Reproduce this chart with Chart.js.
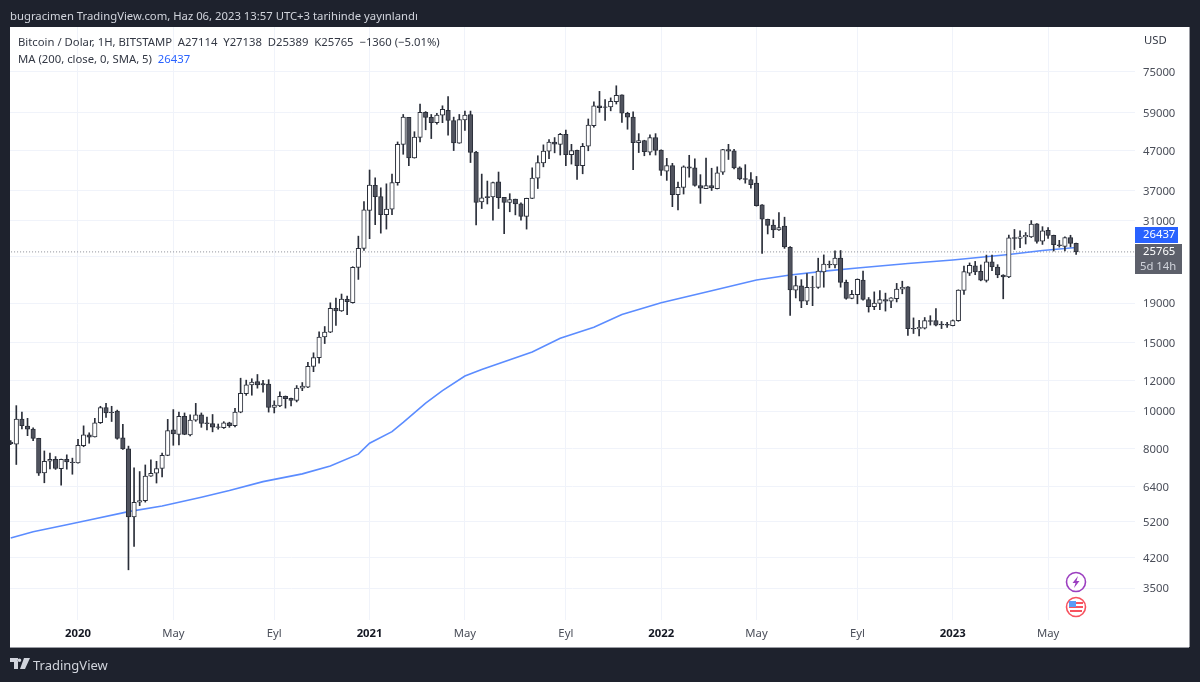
<!DOCTYPE html>
<html>
<head>
<meta charset="utf-8">
<title>Bitcoin / Dolar</title>
<script src="https://cdn.jsdelivr.net/npm/chart.js@4/dist/chart.umd.min.js"></script>
<style>
  html, body { margin: 0; padding: 0; background: #1e222d; }
  #page { position: relative; width: 1200px; height: 682px; overflow: hidden; background: #1e222d; font-family: "Noto Sans", sans-serif; }
  #panel { position: absolute; left: 10px; top: 27px; width: 1179px; height: 620px; background: #fff; box-shadow: 0 1px 0 #9a9ca3, 1px 0 0 #9a9ca3; }
  #chart { position: absolute; left: 0; top: 0; }
  .txt { position: absolute; white-space: pre; }
  #published { left: 10px; top: 8px; font-size: 11.3px; color: #d1d4dc; }
  #legend1 { left: 18px; top: 34px; font-size: 11.3px; color: #333844; }
  #legend2 { left: 18px; top: 51px; font-size: 11.3px; color: #333844; }
  #legend2 span { color: #2962ff; }
  #usd { left: 1144px; top: 32px; font-size: 11.3px; color: #333844; }
  #brand { left: 33px; top: 656px; font-size: 13px; color: #d1d4dc; }
  svg { position: absolute; }
</style>
</head>
<body>
<div id="page">
  <div id="panel"></div>
  <canvas id="chart" width="1200" height="682"></canvas>
  <div class="txt" id="published">bugracimen TradingView.com, Haz 06, 2023 13:57 UTC+3 tarihinde yayınlandı</div>
  <div class="txt" id="legend1">Bitcoin / Dolar, 1H, BITSTAMP  A27114  Y27138  D25389  K25765  −1360 (−5.01%)</div>
  <div class="txt" id="legend2">MA (200, close, 0, SMA, 5)  <span>26437</span></div>
  <div class="txt" id="usd">USD</div>
  <div class="txt" id="brand">TradingView</div>
  <!-- TradingView logo -->
  <svg style="left:10px;top:658px" width="20" height="12" viewBox="0 0 20 12">
    <path d="M0 0H8V11H4V4H0Z M9.5 4a1.8 1.8 0 1 0 0-3.6a1.8 1.8 0 0 0 0 3.6Z M14 0H20L15 11H10Z" fill="#d1d4dc"/>
  </svg>
  <!-- event badges -->
  <svg style="left:1065px;top:571px" width="22" height="22" viewBox="0 0 22 22">
    <circle cx="11" cy="11" r="9.5" fill="#fff" stroke="#9c3fc0" stroke-width="1.6"/>
    <path d="M13 5L7.5 12H10.5L9 17L14.5 10H11.5Z" fill="#9c3fc0"/>
  </svg>
  <svg style="left:1065px;top:596px" width="22" height="22" viewBox="0 0 22 22">
    <circle cx="11" cy="11" r="9.5" fill="#fff" stroke="#f7525f" stroke-width="1.6"/>
    <rect x="4" y="6" width="14" height="2" fill="#f7525f"/>
    <rect x="4" y="10" width="14" height="2" fill="#f7525f"/>
    <rect x="5" y="14" width="12" height="2" fill="#f7525f"/>
    <rect x="4" y="5" width="7" height="6" fill="#5b9cf6"/>
  </svg>
</div>
<script>
// weekly candles, index 0 is the first visible week
const opens = [
  8330, 8220, 9540, 9160, 9000, 8510, 6935, 7430, 7520, 7110,
  7520, 7400, 7360, 8150, 8700, 8590, 9340, 10220, 9950, 10010,
  8540, 8000, 5340, 5824, 5880, 6800, 6920, 7120, 7690, 8960,
  8720, 9700, 8690, 9490, 9790, 9330, 9290, 9120, 9070, 9330,
  9180, 9950, 11100, 11700, 11930, 11780, 11760, 10230, 10330, 10930,
  10800, 10670, 11470, 11530, 13060, 13750, 15540, 16000, 18420, 18160,
  19430, 19060, 23480, 26310, 32940, 38260, 35800, 32150, 33200, 38850,
  48800, 57250, 45000, 50850, 59020, 57250, 55500, 58060, 59700, 56230,
  49130, 56450, 58270, 46600, 34680, 35800, 35730, 39070, 35600, 34550,
  35240, 34260, 31810, 35400, 39930, 43720, 46880, 49440, 48800, 51780,
  45900, 47100, 43000, 48250, 54560, 61320, 61010, 60910, 62900, 65450,
  58630, 57340, 49320, 49920, 46600, 50830, 47150, 41630, 43000, 36200,
  37810, 42700, 42420, 38210, 37510, 38210, 37510, 41370, 47330, 46950,
  42420, 39830, 39600, 38760, 34050, 31270, 30230, 29350, 30050, 26470,
  20520, 21050, 19220, 20890, 20850, 22860, 23920, 23830, 24820, 21500,
  19540, 19980, 21800, 19420, 18600, 18970, 19420, 19230, 19530, 20650,
  20930, 16370, 16310, 16370, 17130, 17130, 16780, 16750, 16620, 17130,
  20500, 22690, 23710, 22970, 21750, 24290, 23550, 22460, 22200, 28040,
  27930, 28160, 28160, 30430, 27450, 29290, 28440, 26880, 26610, 28040,
  27114
];
const highs = [
  8400, 10340, 9950, 9590, 9060, 8520, 7900, 7800, 7640, 7530,
  7720, 7570, 8470, 9170, 8800, 9590, 10300, 10480, 10300, 10070,
  9250, 8130, 7150, 6990, 7270, 7490, 7430, 7800, 9530, 10100,
  9950, 9900, 9790, 10480, 9900, 9660, 9810, 9270, 9400, 9370,
  10170, 12170, 12030, 12130, 12440, 12010, 12060, 10640, 11220, 10950,
  10810, 11650, 11860, 13370, 14150, 16020, 16540, 19040, 19580, 20060,
  19810, 23600, 28290, 34730, 41900, 40000, 37700, 38600, 40900, 49500,
  58270, 57300, 52600, 62000, 59270, 58270, 58650, 61350, 64840, 57360,
  58270, 59460, 59460, 46800, 40900, 39240, 39000, 41400, 35650, 36400,
  35250, 34500, 35450, 42450, 45600, 48650, 50170, 50800, 52100, 53140,
  48800, 47160, 49060, 56730, 62770, 66840, 63660, 64300, 69100, 65500,
  59050, 59160, 52000, 50000, 51660, 52000, 47200, 44900, 43600, 38990,
  42950, 45730, 44780, 40760, 45000, 42340, 42700, 47400, 48800, 47400,
  42700, 43250, 41250, 40330, 34100, 31300, 31160, 32520, 31660, 26610,
  22300, 21850, 22660, 22300, 24820, 25310, 24400, 25940, 25980, 21800,
  20500, 21950, 23000, 19650, 20320, 20480, 20170, 19650, 21370, 21650,
  20960, 17410, 17150, 17450, 17640, 18400, 17040, 16960, 17200, 20570,
  23700, 24130, 24350, 23840, 25280, 25280, 23880, 22500, 28460, 29440,
  29180, 28900, 31030, 30500, 29930, 29750, 28460, 27600, 28160, 28440,
  27138
];
const lows = [
  8200, 7290, 9000, 8650, 8400, 6830, 6540, 7100, 7080, 6450,
  7090, 6880, 7350, 8100, 8270, 8580, 9300, 9640, 9410, 8470,
  7970, 3900, 4480, 5710, 5830, 6790, 6530, 6770, 7680, 8170,
  8190, 8700, 8640, 9420, 9090, 8950, 8850, 8990, 9030, 9090,
  9110, 9910, 10990, 11000, 11470, 11200, 9950, 9900, 10270, 10190,
  10330, 10570, 11300, 11500, 12650, 13310, 14950, 15950, 16640, 18090,
  17740, 19000, 21880, 26010, 27870, 30290, 28800, 29500, 32150, 38280,
  46000, 43000, 44950, 49500, 53200, 50500, 55000, 55500, 51560, 47030,
  49100, 53000, 43800, 30250, 33330, 34250, 31100, 33330, 28700, 32700,
  32100, 31100, 29500, 35350, 37540, 42700, 44800, 46400, 45800, 43000,
  43400, 39600, 40970, 46970, 54000, 59010, 56240, 59550, 62000, 55570,
  53380, 42000, 46470, 45600, 45800, 45800, 40600, 39400, 33700, 33050,
  36330, 40150, 38060, 34370, 37500, 37100, 37440, 40800, 44600, 42200,
  39520, 38750, 37600, 33800, 25550, 28660, 28040, 29250, 26310, 17680,
  19600, 18500, 18840, 18720, 20750, 20890, 23440, 23440, 20890, 19450,
  19500, 18930, 19340, 18020, 18280, 18280, 18130, 18500, 19140, 20090,
  15700, 15870, 15640, 16300, 16680, 16600, 16340, 16450, 16600, 17060,
  20000, 22390, 22500, 21700, 21540, 23040, 22100, 19500, 22100, 26140,
  26400, 27000, 28060, 27130, 26930, 27900, 25900, 26500, 25900, 26530,
  25389
];
const closes = [
  8250, 9550, 9180, 8985, 8510, 6920, 7430, 7520, 7120, 7520,
  7400, 7370, 8170, 8700, 8570, 9340, 10220, 9900, 9910, 8510,
  8000, 5340, 5824, 5880, 6800, 6920, 7110, 7700, 8920, 8740,
  9700, 8720, 9490, 9790, 9310, 9290, 9100, 9090, 9330, 9180,
  9950, 11130, 11700, 11900, 11700, 11700, 10230, 10380, 10930, 10780,
  10670, 11470, 11610, 13060, 13750, 15540, 16000, 18420, 18160, 19470,
  19170, 23520, 26310, 33100, 38340, 35780, 32150, 33200, 38900, 48800,
  57360, 45000, 50950, 59020, 57250, 55500, 58060, 60080, 56230, 49200,
  56570, 58060, 46500, 34550, 35530, 35530, 38900, 35530, 34550, 35170,
  34260, 31810, 35400, 39930, 43800, 46880, 49440, 48850, 51780, 45900,
  47050, 43000, 48250, 54720, 61320, 60690, 60800, 63030, 65320, 58700,
  57340, 49320, 49920, 46690, 50830, 47060, 41800, 43000, 36200, 37810,
  42700, 42340, 38210, 37590, 38210, 37670, 41200, 47330, 46860, 42420,
  39750, 39600, 38410, 33920, 31270, 30170, 29350, 29780, 26530, 20560,
  21090, 19220, 20890, 20850, 22980, 23970, 23830, 24820, 21500, 19540,
  20020, 21900, 19420, 18600, 19010, 19420, 19230, 19610, 20650, 20890,
  16340, 16310, 16450, 17130, 17060, 16680, 16710, 16680, 17130, 20540,
  22910, 23790, 22880, 21790, 24290, 23550, 22460, 22200, 27990, 27930,
  28160, 28440, 30370, 27400, 29180, 28400, 26880, 26720, 28040, 27110,
  25765
];

// moving average
const maWeeks = [0, 4, 10, 14, 21, 27, 34, 39, 45, 52, 57, 62, 64, 68, 70, 74, 77, 81, 84, 93, 98, 104, 109, 116, 125, 133, 139, 146, 151, 160, 168, 178, 184, 190];
const maValues = [4712, 4890, 5095, 5245, 5510, 5700, 6000, 6243, 6585, 6895, 7225, 7750, 8270, 8860, 9360, 10500, 11300, 12330, 12810, 14220, 15430, 16470, 17770, 19060, 20460, 21810, 22470, 23050, 23420, 24050, 24560, 25370, 25990, 26437];

const xTickWeeks = [12, 29, 47, 64, 81, 99, 116, 133, 151, 168, 185];
const xTickLabels = ['2020', 'May', 'Eyl', '2021', 'May', 'Eyl', '2022', 'May', 'Eyl', '2023', 'May'];
const yearLabels = ['2020', '2021', '2022', '2023'];
const yTickValues = [75000, 59000, 47000, 37000, 31000, 25000, 19000, 15000, 12000, 10000, 8000, 6400, 5200, 4200, 3500];

const lastClose = 25765;
const lastMa = 26437;
const countdown = '5d 14h';

const weeks = opens.map(function(_, i) { return i; });
const isDown = function(i) { return closes[i] < opens[i]; };
const isYearTick = function(c) { return !!c.tick && yearLabels.indexOf(c.tick.label) >= 0; };

const wickData = weeks.map(function(i) { return { x: i, y: [lows[i], highs[i]] }; });
const bodyData = weeks.map(function(i) { return { x: i, y: [opens[i], closes[i]] }; });
const maData = maWeeks.map(function(w, i) { return { x: w, y: maValues[i] }; });

// price tags on the right axis
const priceTags = {
    id: 'priceTags',
    afterDraw: function(chart) {
        const ctx = chart.ctx;
        const y = chart.scales.y.getPixelForValue(lastClose);
        const greyTop = Math.round(y) - 8;
        ctx.save();
        ctx.textBaseline = 'middle';
        ctx.font = '11.3px "Noto Sans", sans-serif';
        ctx.fillStyle = '#2962ff';
        ctx.fillRect(1135, greyTop - 17, 43, 16);
        ctx.fillStyle = '#5d606b';
        ctx.fillRect(1135, greyTop, 47, 30);
        ctx.fillStyle = '#ffffff';
        ctx.fillText(String(lastMa), 1143, greyTop - 9);
        ctx.fillText(String(lastClose), 1143, greyTop + 8);
        ctx.fillStyle = '#d1d4dc';
        ctx.fillText(countdown, 1140, greyTop + 23);
        ctx.restore();
    }
};

const chart = new Chart(document.getElementById('chart').getContext('2d'), {
    type: 'bar',
    data: {
        datasets: [
            {
                type: 'bar',
                label: 'Body',
                data: bodyData,
                order: 1,
                grouped: false,
                barThickness: 4.5,
                borderWidth: 1,
                borderSkipped: false,
                borderColor: '#2a2e39',
                backgroundColor: function(c) { return isDown(c.dataIndex) ? '#50535e' : '#ffffff'; }
            },
            {
                type: 'bar',
                label: 'Wick',
                data: wickData,
                order: 2,
                grouped: false,
                barThickness: 1,
                borderWidth: 0,
                backgroundColor: '#2a2e39'
            },
            {
                type: 'line',
                label: 'MA',
                data: maData,
                order: 3,
                borderColor: '#5b8cff',
                borderWidth: 1.6,
                pointRadius: 0,
                tension: 0
            },
            {
                type: 'line',
                label: 'Last',
                data: [{ x: -1, y: lastClose }, { x: 201, y: lastClose }],
                order: 4,
                borderColor: '#8a8d96',
                borderWidth: 1,
                borderDash: [1, 2],
                pointRadius: 0
            }
        ]
    },
    options: {
        responsive: false,
        animation: false,
        layout: { padding: { left: 10, top: 27, right: 11, bottom: 35 } },
        plugins: { legend: { display: false }, tooltip: { enabled: false } },
        scales: {
            x: {
                type: 'linear',
                offset: false,
                bounds: 'data',
                min: -0.125,
                max: 200.5,
                afterBuildTicks: function(s) { s.ticks = xTickWeeks.map(function(v) { return { value: v }; }); },
                afterFit: function(s) { s.height = 27; s.paddingLeft = 0; s.paddingRight = 0; },
                grid: { color: '#f0f3fa', drawTicks: false, offset: false },
                border: { display: false },
                ticks: {
                    autoSkip: false,
                    maxRotation: 0,
                    padding: 7,
                    color: function(c) { return isYearTick(c) ? '#131722' : '#4a4e59'; },
                    font: function(c) {
                        return { family: '"Noto Sans", sans-serif', size: 11.3, weight: isYearTick(c) ? 'bold' : 'normal' };
                    },
                    callback: function(v) { return xTickLabels[xTickWeeks.indexOf(v)]; }
                }
            },
            y: {
                type: 'logarithmic',
                position: 'right',
                bounds: 'data',
                min: 2895,
                max: 97960,
                afterBuildTicks: function(s) { s.ticks = yTickValues.map(function(v) { return { value: v }; }); },
                afterFit: function(s) { s.width = 54; s.paddingTop = 0; s.paddingBottom = 0; },
                grid: { color: '#f0f3fa', drawTicks: false },
                border: { display: false },
                ticks: {
                    autoSkip: false,
                    padding: 8,
                    labelOffset: 1,
                    color: '#4a4e59',
                    font: { family: '"Noto Sans", sans-serif', size: 11.3 },
                    callback: function(v) { return String(v); }
                }
            }
        }
    },
    plugins: [priceTags]
});
</script>
</body>
</html>
